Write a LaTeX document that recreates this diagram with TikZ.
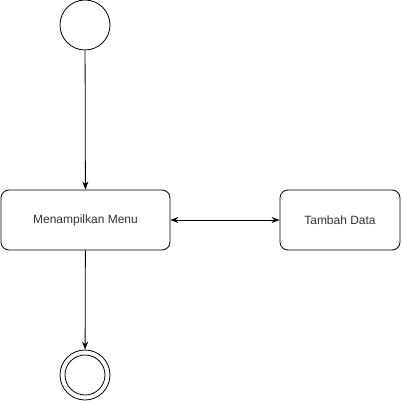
\documentclass[tikz,border=0pt]{standalone}
\usepackage{fontspec}
\setmainfont{Liberation Sans}
\usetikzlibrary{arrows.meta}
\definecolor{txt}{HTML}{333333}
\begin{document}
\begin{tikzpicture}[x=1pt,y=-1pt,
  box/.style={draw=black,line width=0.8pt,rounded corners=8pt,minimum height=60pt,inner sep=0pt,font=\fontsize{12pt}{14pt}\selectfont,text=txt},
  conn/.style={draw=black,line width=0.8pt,-{Stealth[length=8pt,width=6pt]}},
  dconn/.style={draw=black,line width=0.8pt,{Stealth[length=8pt,width=6pt]}-{Stealth[length=8pt,width=6pt]}}]
\useasboundingbox (0,0) rectangle (401,401);
\node[draw=black,line width=0.8pt,circle,minimum size=50pt,inner sep=0pt] (start) at (85,25) {};
\node[box,minimum width=169pt] (menu) at (85.5,220) {Menampilkan Menu};
\node[box,minimum width=120pt] (tambah) at (340,220) {Tambah Data};
\node[draw=black,line width=0.8pt,circle,minimum size=50pt,inner sep=0pt] (end) at (85,375) {};
\node[draw=black,line width=0.8pt,circle,minimum size=40pt,inner sep=0pt] (endin) at (85,375) {};
\draw[conn] (start) -- (menu);
\draw[dconn] (menu) -- (tambah);
\draw[conn] (menu) -- (end);
\end{tikzpicture}
\end{document}
